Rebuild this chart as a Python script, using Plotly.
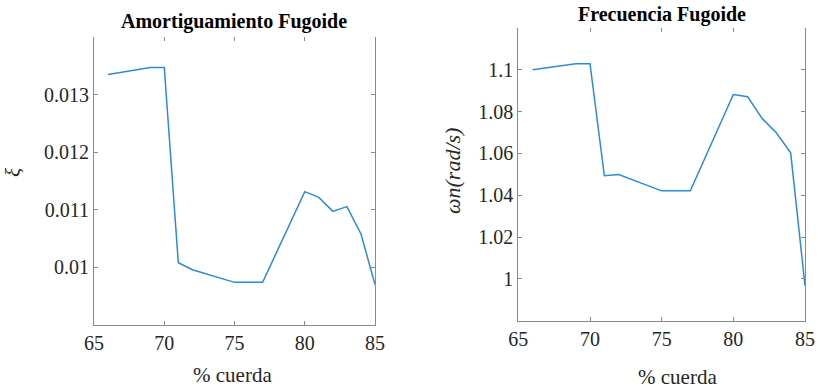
import plotly.graph_objects as go

# chord position (% cuerda) for each configuration
cuerda = [66, 69, 70, 71, 72, 75, 77, 80, 81, 82, 83, 84, 85]
# phugoid damping ratio
xi = [0.01335, 0.01347, 0.01347, 0.01008, 0.00996, 0.00974, 0.00974,
      0.011315, 0.011216, 0.010973, 0.011055, 0.01058, 0.0097]
# phugoid natural frequency (rad/s)
wn = [1.1, 1.1029, 1.1029, 1.0493, 1.0499, 1.0421, 1.0421,
      1.0882, 1.0871, 1.0768, 1.0699, 1.0603, 0.9968]

x_ticks = [65, 70, 75, 80, 85]
xi_ticks = [0.01, 0.011, 0.012, 0.013]
xi_ticktext = ["0.01", "0.011", "0.012", "0.013"]
wn_ticks = [1.0, 1.02, 1.04, 1.06, 1.08, 1.1]
wn_ticktext = ["1", "1.02", "1.04", "1.06", "1.08", "1.1"]

LINE = "#2b8bd6"
AX = "#8a8a8a"
TXT = "#262626"
SERIF = "Liberation Serif"

fig = go.Figure()
fig.add_trace(go.Scatter(x=cuerda, y=xi, mode="lines", xaxis="x", yaxis="y",
                         line=dict(color=LINE, width=1.5), showlegend=False))
fig.add_trace(go.Scatter(x=cuerda, y=wn, mode="lines", xaxis="x2", yaxis="y2",
                         line=dict(color=LINE, width=1.5), showlegend=False))
# invisible traces that carry the top tick axes
fig.add_trace(go.Scatter(x=cuerda, y=xi, mode="none", xaxis="x3", yaxis="y",
                         showlegend=False, hoverinfo="skip"))
fig.add_trace(go.Scatter(x=cuerda, y=wn, mode="none", xaxis="x4", yaxis="y2",
                         showlegend=False, hoverinfo="skip"))

tick_font = dict(family=SERIF, size=20, color=TXT)
common_x = dict(range=[65, 85], tickvals=x_ticks, ticks="inside", ticklen=4,
                tickcolor=AX, showline=True, linecolor=AX, linewidth=1,
                showgrid=False, zeroline=False, tickfont=tick_font,
                automargin=False)
top_x = dict(range=[65, 85], tickvals=x_ticks, ticks="inside", ticklen=4,
             tickcolor=AX, showline=False, showgrid=False, zeroline=False,
             showticklabels=False, side="top", automargin=False)
common_y = dict(ticks="inside", ticklen=4, tickcolor=AX, showline=True,
                linecolor=AX, linewidth=1, mirror="ticks", showgrid=False,
                zeroline=False, tickfont=tick_font, automargin=False)

fig.update_layout(
    width=819, height=390,
    margin=dict(l=0, r=0, t=0, b=0, autoexpand=False),
    paper_bgcolor="white", plot_bgcolor="white",
    xaxis=dict(domain=[0.1148, 0.4579], anchor="y", **common_x),
    yaxis=dict(domain=[0.1667, 0.9051], anchor="x", range=[0.009, 0.014],
               tickvals=xi_ticks, ticktext=xi_ticktext, **common_y),
    xaxis3=dict(overlaying="x", anchor="y", **top_x),
    xaxis2=dict(domain=[0.6329, 0.9829], anchor="y2", **common_x),
    yaxis2=dict(domain=[0.1777, 0.9282], anchor="x2", range=[0.98, 1.12],
                tickvals=wn_ticks, ticktext=wn_ticktext, **common_y),
    xaxis4=dict(overlaying="x2", anchor="y2", **top_x),
)

title_font = dict(family=SERIF, size=20, color="black")
label_font = dict(family=SERIF, size=21, color=TXT)
annotations = [
    dict(text="<b>Amortiguamiento Fugoide</b>", x=234 / 819, y=1 - 21 / 390,
         font=title_font),
    dict(text="<b>Frecuencia Fugoide</b>", x=662 / 819, y=1 - 15 / 390,
         font=title_font),
    dict(text="% cuerda", x=232 / 819, y=1 - 375 / 390, font=label_font),
    dict(text="% cuerda", x=677 / 819, y=1 - 377 / 390, font=label_font),
    dict(text="<i>ξ</i>", x=13 / 819, y=1 - 173 / 390, textangle=-90,
         font=label_font),
    dict(text="<i>ωn(rad/s)</i>", x=452 / 819, y=1 - 171 / 390, textangle=-90,
         font=dict(family=SERIF, size=22, color=TXT)),
]
for a in annotations:
    a.update(xref="paper", yref="paper", showarrow=False,
             xanchor="center", yanchor="middle")
fig.update_layout(annotations=annotations)

fig.write_html("out.html")
